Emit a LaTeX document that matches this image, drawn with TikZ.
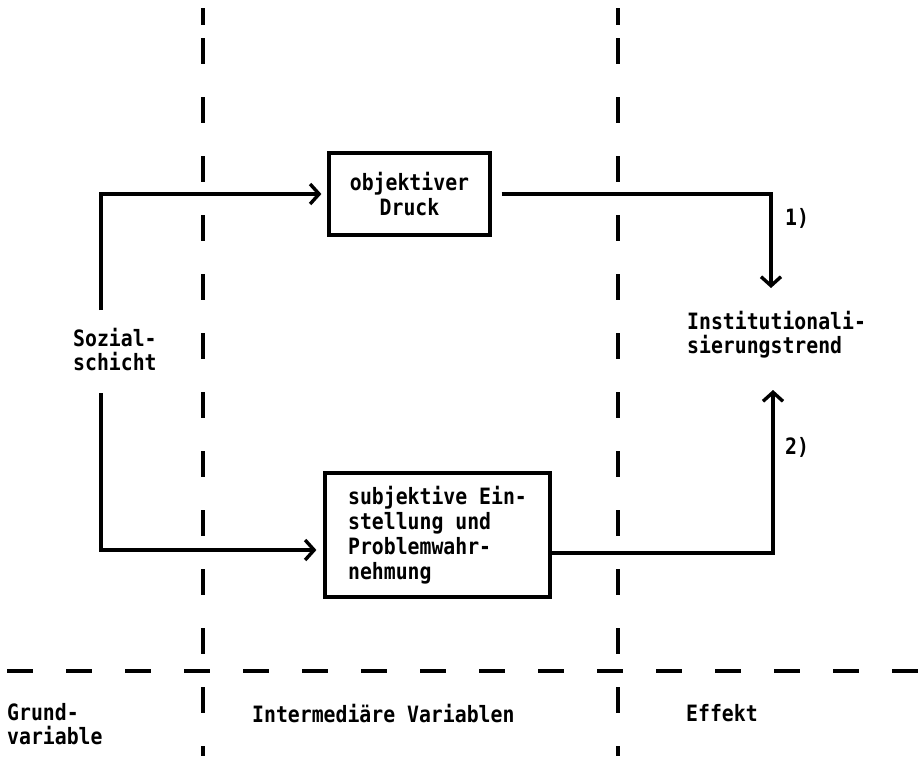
\documentclass[tikz,border=0pt]{standalone}
\usepackage{fontspec}
\newfontfamily\twfont[FakeStretch=0.88]{DejaVu Sans Mono Bold}
\usetikzlibrary{arrows.meta}
\tikzset{
  lbl/.style={inner sep=0pt, font=\twfont\fontsize{22.5}{24}\selectfont, align=left},
  boxnode/.style={draw, line width=3.2pt, inner sep=0pt, font=\twfont\fontsize{22.5}{25}\selectfont},
  conn/.style={line width=3.2pt},
  arr/.style={conn, -{Straight Barb[length=9pt,width=20pt,line width=3.4pt]}},
  divider/.style={line width=3.2pt, dash pattern=on 26pt off 33pt},
}
\begin{document}
\begin{tikzpicture}[x=1pt,y=-1pt]
\useasboundingbox (0,0) rectangle (918,756);
\fill[white] (0,0) rectangle (918,756);
% dividers
\draw[line width=3.2pt] (203,8) -- (203,25);
\draw[divider] (203,38) -- (203,756);
\draw[line width=3.2pt] (618,8) -- (618,25);
\draw[divider] (618,38) -- (618,756);
\draw[divider] (7,671) -- (918,671);
% nodes
\node[lbl, anchor=west] (soz) at (73,350) {Sozial-\\schicht};
\node[boxnode, minimum width=161pt, minimum height=82pt, align=center] (obj) at (409.5,194) {objektiver\\Druck};
\node[boxnode, minimum width=225pt, minimum height=124pt, align=left] (subj) at (437.5,535) {subjektive Ein-\\stellung und\\Problemwahr-\\nehmung};
\node[lbl, anchor=west] (inst) at (687,335) {Institutionali-\\sierungstrend};
\node[lbl, anchor=west] (n1) at (785,218) {1)};
\node[lbl, anchor=west] (n2) at (785,447) {2)};
\node[lbl, anchor=west] (grund) at (7,724) {Grund-\\variable};
\node[lbl, anchor=west] (inter) at (252,713) {Intermediäre Variablen};
\node[lbl, anchor=west] (eff) at (686,713) {Effekt};
% connector ends
\coordinate (s1) at (101,310);
\coordinate (s2) at (101,393);
\coordinate (i1) at (771,288);
\coordinate (i2) at (773,390);
% connectors
\draw[arr, shorten >=6pt] (s1) |- (obj.west);
\draw[arr, shorten >=7pt] (s2) |- ([yshift=-15pt]subj.west);
\draw[arr] ([xshift=10pt]obj.east) -| (i1);
\draw[arr] ([yshift=-18pt]subj.east) -| (i2);
\end{tikzpicture}
\end{document}
